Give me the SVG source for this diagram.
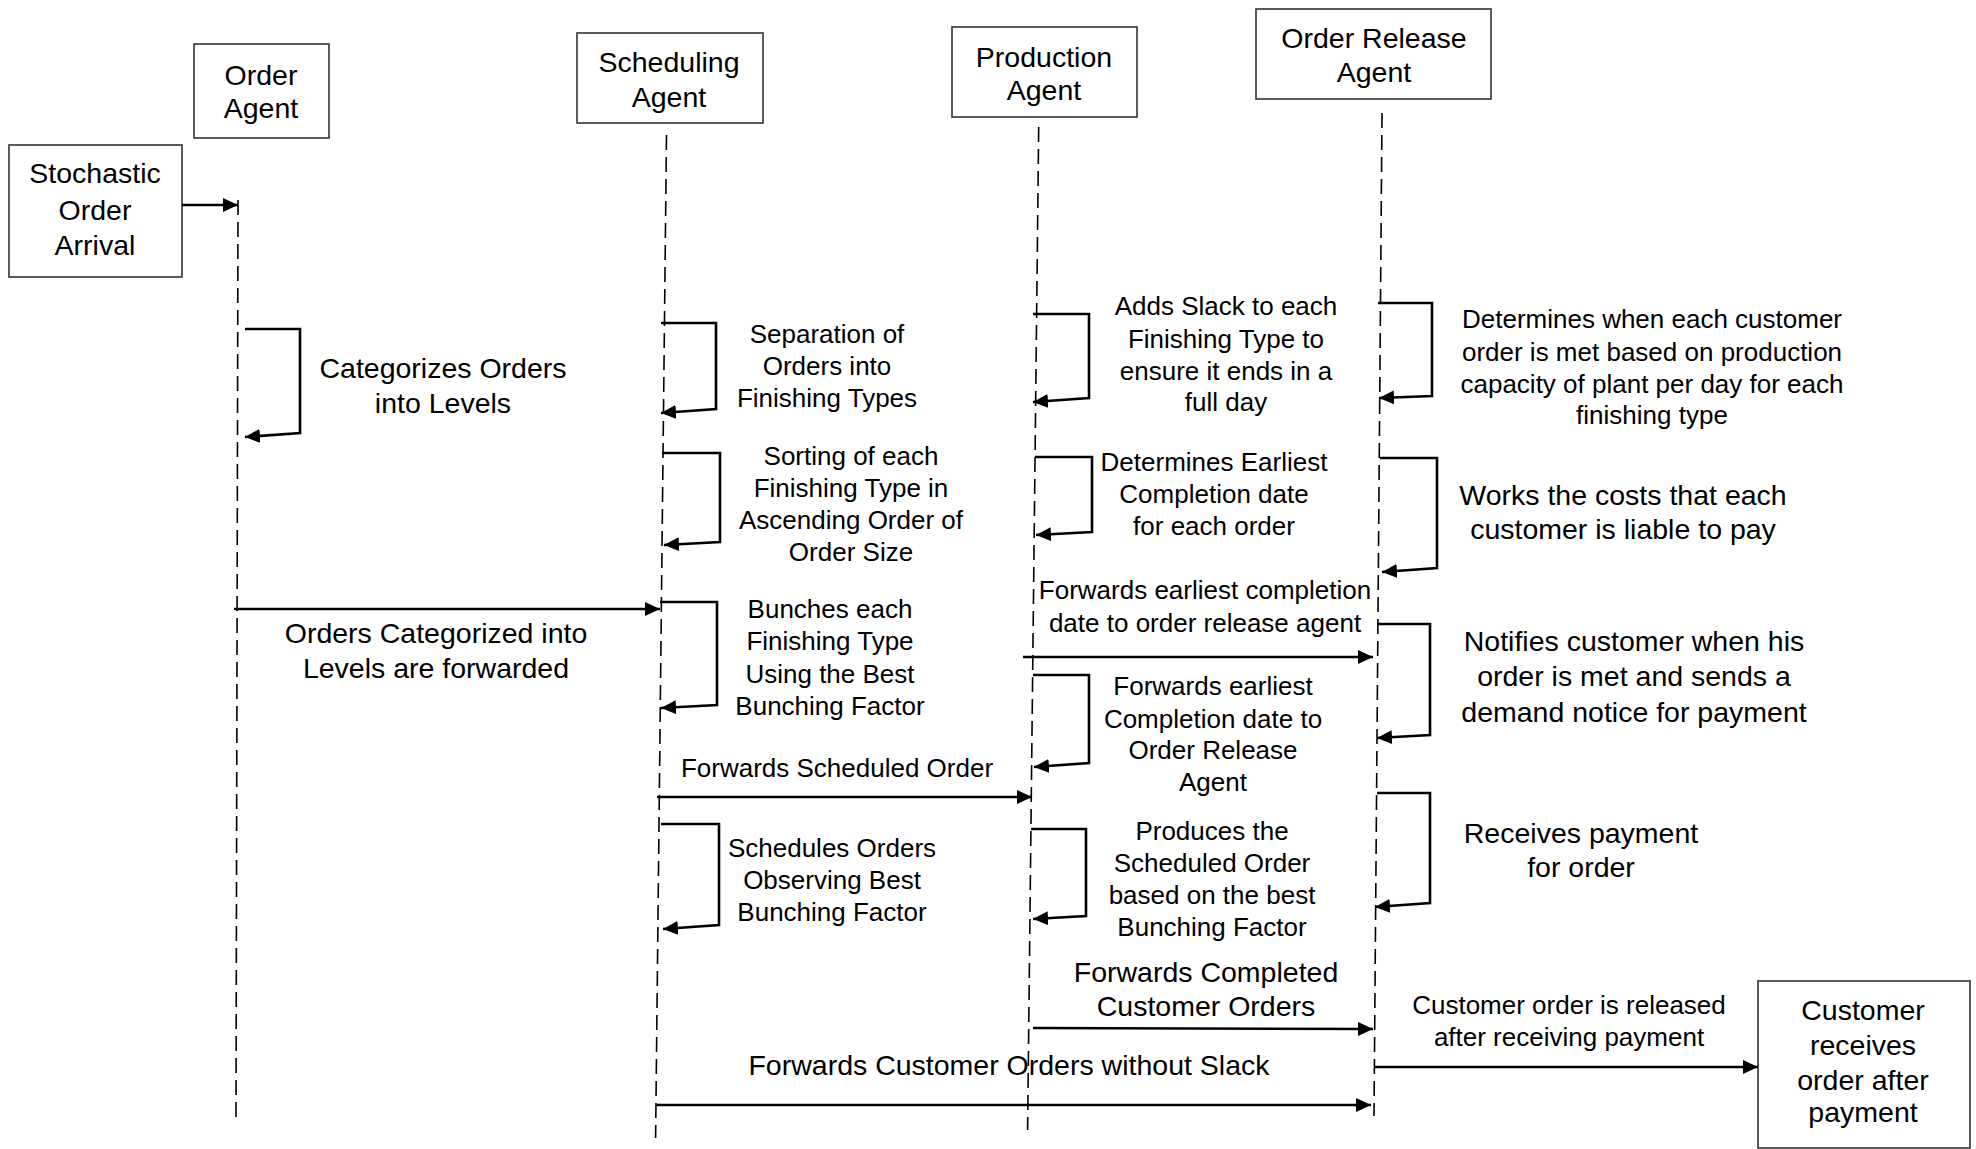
<svg xmlns="http://www.w3.org/2000/svg" width="1976" height="1149" viewBox="0 0 1976 1149">
  <style>
    .box { fill: #ffffff; stroke: #333333; stroke-width: 1.6; }
    .life { fill: none; stroke: #000000; stroke-width: 1.6; stroke-dasharray: 15 7; }
    .msg { fill: none; stroke: #000000; stroke-width: 2.6; marker-end: url(#tip); }
    .self { fill: none; stroke: #000000; stroke-width: 2.6; stroke-linejoin: miter; marker-end: url(#tip); }
    text { font-family: "Liberation Sans", Arial, sans-serif; fill: #000000; text-anchor: middle; }
    .lg { font-size: 28.5px; }
    .md { font-size: 26px; }
  </style>
  <defs>
    <marker id="tip" markerUnits="userSpaceOnUse" markerWidth="17" markerHeight="15" refX="15" refY="7" orient="auto">
      <path d="M0,0 L15,7 L0,14 Z" fill="#000000"/>
    </marker>
  </defs>
  <rect width="1976" height="1149" fill="#ffffff"/>

  <!-- lifelines -->
  <g id="lifelines">
    <line class="life" x1="238" y1="200" x2="236" y2="1117"/>
    <line class="life" x1="666.5" y1="135" x2="655.6" y2="1138"/>
    <line class="life" x1="1038.7" y1="127" x2="1027.6" y2="1130"/>
    <line class="life" x1="1382" y1="113" x2="1374" y2="1116"/>
  </g>

  <!-- participants -->
  <g id="stochastic-order-arrival">
    <rect class="box" x="9" y="145" width="173" height="132"/>
    <text class="lg" x="95" y="183">Stochastic</text>
    <text class="lg" x="95" y="220">Order</text>
    <text class="lg" x="95" y="255">Arrival</text>
  </g>
  <g id="order-agent">
    <rect class="box" x="194" y="44" width="135" height="94"/>
    <text class="lg" x="261" y="85">Order</text>
    <text class="lg" x="261" y="118">Agent</text>
  </g>
  <g id="scheduling-agent">
    <rect class="box" x="577" y="33" width="186" height="90"/>
    <text class="lg" x="669" y="72">Scheduling</text>
    <text class="lg" x="669" y="107">Agent</text>
  </g>
  <g id="production-agent">
    <rect class="box" x="952" y="27" width="185" height="90"/>
    <text class="lg" x="1044" y="67">Production</text>
    <text class="lg" x="1044" y="100">Agent</text>
  </g>
  <g id="order-release-agent">
    <rect class="box" x="1256" y="9" width="235" height="90"/>
    <text class="lg" x="1374" y="48">Order Release</text>
    <text class="lg" x="1374" y="82">Agent</text>
  </g>
  <g id="customer">
    <rect class="box" x="1758" y="981" width="212" height="167"/>
    <text class="lg" x="1863" y="1020">Customer</text>
    <text class="lg" x="1863" y="1055">receives</text>
    <text class="lg" x="1863" y="1090">order after</text>
    <text class="lg" x="1863" y="1122">payment</text>
  </g>

  <!-- messages and self-calls -->
  <g id="connectors">
    <line class="msg" x1="182" y1="205" x2="238" y2="205"/>
    <line class="msg" x1="234" y1="609" x2="660" y2="609"/>
    <line class="msg" x1="1023" y1="657" x2="1373" y2="657"/>
    <line class="msg" x1="657" y1="797" x2="1032" y2="797"/>
    <line class="msg" x1="1033" y1="1028" x2="1373" y2="1029"/>
    <line class="msg" x1="1375" y1="1067" x2="1758" y2="1067"/>
    <line class="msg" x1="656" y1="1105" x2="1371" y2="1105"/>

    <polyline class="self" points="245,329 300,329 300,433 245,437"/>
    <polyline class="self" points="661,323 716,323 716,409 661,413"/>
    <polyline class="self" points="662,453 720,453 720,542 664,545"/>
    <polyline class="self" points="660,602 717,602 717,705 661,708"/>
    <polyline class="self" points="661,824 719,824 719,925 663,929"/>
    <polyline class="self" points="1033,314 1089,314 1089,398 1033,402"/>
    <polyline class="self" points="1035,457 1092,457 1092,532 1036,535"/>
    <polyline class="self" points="1033,675 1089,675 1089,763 1034,767"/>
    <polyline class="self" points="1031,829 1086,829 1086,916 1033,919"/>
    <polyline class="self" points="1378,303 1432,303 1432,396 1379,398"/>
    <polyline class="self" points="1380,458 1437,458 1437,568 1382,572"/>
    <polyline class="self" points="1377,624 1430,624 1430,735 1377,738"/>
    <polyline class="self" points="1377,793 1430,793 1430,903 1375,907"/>
  </g>

  <!-- labels -->
  <g id="labels">
    <text class="lg" x="443" y="378">Categorizes Orders</text>
    <text class="lg" x="443" y="413">into Levels</text>

    <text class="lg" x="436" y="643">Orders Categorized into</text>
    <text class="lg" x="436" y="678">Levels are forwarded</text>

    <text class="md" x="827" y="343">Separation of</text>
    <text class="md" x="827" y="375">Orders into</text>
    <text class="md" x="827" y="407">Finishing Types</text>

    <text class="md" x="851" y="465">Sorting of each</text>
    <text class="md" x="851" y="497">Finishing Type in</text>
    <text class="md" x="851" y="529">Ascending Order of</text>
    <text class="md" x="851" y="561">Order Size</text>

    <text class="md" x="830" y="618">Bunches each</text>
    <text class="md" x="830" y="650">Finishing Type</text>
    <text class="md" x="830" y="683">Using the Best</text>
    <text class="md" x="830" y="715">Bunching Factor</text>

    <text class="md" x="837" y="777">Forwards Scheduled Order</text>

    <text class="md" x="832" y="857">Schedules Orders</text>
    <text class="md" x="832" y="889">Observing Best</text>
    <text class="md" x="832" y="921">Bunching Factor</text>

    <text class="md" x="1226" y="315">Adds Slack to each</text>
    <text class="md" x="1226" y="348">Finishing Type to</text>
    <text class="md" x="1226" y="380">ensure it ends in a</text>
    <text class="md" x="1226" y="411">full day</text>

    <text class="md" x="1214" y="471">Determines Earliest</text>
    <text class="md" x="1214" y="503">Completion date</text>
    <text class="md" x="1214" y="535">for each order</text>

    <text class="md" x="1205" y="599">Forwards earliest completion</text>
    <text class="md" x="1205" y="632">date to order release agent</text>

    <text class="md" x="1213" y="695">Forwards earliest</text>
    <text class="md" x="1213" y="728">Completion date to</text>
    <text class="md" x="1213" y="759">Order Release</text>
    <text class="md" x="1213" y="791">Agent</text>

    <text class="md" x="1212" y="840">Produces the</text>
    <text class="md" x="1212" y="872">Scheduled Order</text>
    <text class="md" x="1212" y="904">based on the best</text>
    <text class="md" x="1212" y="936">Bunching Factor</text>

    <text class="lg" x="1206" y="982">Forwards Completed</text>
    <text class="lg" x="1206" y="1016">Customer Orders</text>

    <text class="lg" x="1009" y="1075">Forwards Customer Orders without Slack</text>

    <text class="md" x="1652" y="328">Determines when each customer</text>
    <text class="md" x="1652" y="361">order is met based on production</text>
    <text class="md" x="1652" y="393">capacity of plant per day for each</text>
    <text class="md" x="1652" y="424">finishing type</text>

    <text class="lg" x="1623" y="505">Works the costs that each</text>
    <text class="lg" x="1623" y="539">customer is liable to pay</text>

    <text class="lg" x="1634" y="651">Notifies customer when his</text>
    <text class="lg" x="1634" y="686">order is met and sends a</text>
    <text class="lg" x="1634" y="722">demand notice for payment</text>

    <text class="lg" x="1581" y="843">Receives payment</text>
    <text class="lg" x="1581" y="877">for order</text>

    <text class="md" x="1569" y="1014">Customer order is released</text>
    <text class="md" x="1569" y="1046">after receiving payment</text>
  </g>
</svg>
